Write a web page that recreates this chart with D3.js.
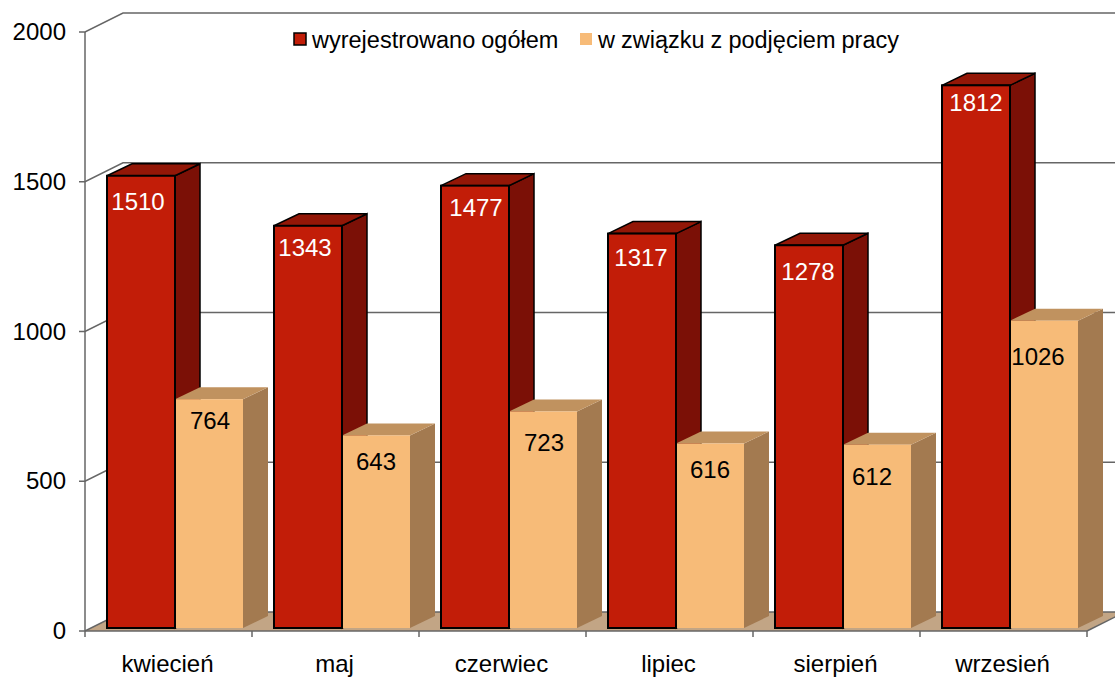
<!DOCTYPE html>
<html>
<head>
<meta charset="utf-8">
<script src="https://cdn.jsdelivr.net/npm/d3@7"></script>
<style>
  html, body { margin: 0; padding: 0; background: #fff; }
  svg { display: block; }
  text { font-family: "Liberation Sans", Arial, sans-serif; font-size: 24px; fill: #000; }
  .legend text { font-size: 23.5px; word-spacing: -0.5px; }
</style>
</head>
<body>
<div id="chart"></div>
<script>
const months = ["kwiecień", "maj", "czerwiec", "lipiec", "sierpień", "wrzesień"];
const total = [1510, 1343, 1477, 1317, 1278, 1812];
const employed = [764, 643, 723, 616, 612, 1026];
const yTicks = [0, 500, 1000, 1500, 2000];
const seriesNames = ["wyrejestrowano ogółem", "w związku z podjęciem pracy"];

const W = 1115, H = 678;
const m = { left: 85, right: 1087, top: 32, bottom: 631 };
// oblique projection: back wall offset, bar depth, gap of bars from the front edge
const wall = { dx: 38, dy: -19 };
const depth = { dx: 25, dy: -12 };
const inset = { dx: 6, dy: -3 };

const red = { front: "#c21d08", side: "#7b1006", top: "#931707", stroke: "#000" };
const tan = { front: "#f7bb78", side: "#a37a50", top: "#c0925f", stroke: "none" };

const svg = d3.select("#chart").append("svg").attr("width", W).attr("height", H)
  .attr("viewBox", `0 0 ${W} ${H}`);

const x = d3.scaleBand().domain(months).range([m.left, m.right]);
const y = d3.scaleLinear().domain([0, 2000]).range([m.bottom, m.top]);
const barW = 68;
const pts = (a) => a.map((p) => p.join(",")).join(" ");

// floor
svg.append("polygon").attr("fill", "#c2a585").attr("points", pts([
  [m.left, m.bottom], [m.right, m.bottom],
  [m.right + wall.dx, m.bottom + wall.dy], [m.left + wall.dx, m.bottom + wall.dy]
]));

// walls: gridlines + ticks
const axisCol = "#666";
const grid = svg.append("g").attr("stroke", axisCol).attr("stroke-width", 1.5).attr("fill", "none");
grid.selectAll("polyline").data(yTicks).join("polyline")
  .attr("points", (d) => pts([
    [m.left - 6, y(d)], [m.left, y(d)],
    [m.left + wall.dx, y(d) + wall.dy], [m.right + wall.dx, y(d) + wall.dy]
  ]));
grid.append("line").attr("x1", m.left).attr("x2", m.left).attr("y1", y(2000)).attr("y2", y(0));
grid.append("line").attr("x1", m.left).attr("x2", m.right).attr("y1", y(0)).attr("y2", y(0));
grid.append("line").attr("x1", m.right).attr("x2", m.right + wall.dx)
  .attr("y1", y(0)).attr("y2", y(0) + wall.dy);
grid.selectAll(".xt").data(d3.range(months.length + 1)).join("line").attr("class", "xt")
  .attr("x1", (i) => m.left + i * x.bandwidth()).attr("x2", (i) => m.left + i * x.bandwidth())
  .attr("y1", y(0)).attr("y2", y(0) + 6);

svg.append("g").selectAll("text").data(yTicks).join("text")
  .attr("x", 66).attr("y", (d) => y(d) + 8).attr("text-anchor", "end").text((d) => d);
svg.append("g").selectAll("text").data(months).join("text")
  .attr("x", (d) => x(d) + x.bandwidth() / 2 - 1).attr("y", 672).attr("text-anchor", "middle")
  .text((d) => d);

// 3d bar parts: left edge in px, value through the y scale
function barBack(g, x0, v, c) {
  const x1 = x0 + barW;
  const yb = y(0) + inset.dy, yt = y(v) + inset.dy;
  const sw = c.stroke === "none" ? 0 : 1.5;
  g.append("polygon").attr("fill", c.side).attr("stroke", c.stroke).attr("stroke-width", sw)
    .attr("points", pts([[x1, yb], [x1 + depth.dx, yb + depth.dy], [x1 + depth.dx, yt + depth.dy], [x1, yt]]));
  g.append("polygon").attr("fill", c.top).attr("stroke", c.stroke).attr("stroke-width", sw)
    .attr("points", pts([[x0, yt], [x1, yt], [x1 + depth.dx, yt + depth.dy], [x0 + depth.dx, yt + depth.dy]]));
}
function barFront(g, x0, v, c) {
  const yb = y(0) + inset.dy, yt = y(v) + inset.dy;
  g.append("rect").attr("x", x0).attr("y", yt).attr("width", barW).attr("height", yb - yt)
    .attr("fill", c.front).attr("stroke", c.stroke).attr("stroke-width", c.stroke === "none" ? 0 : 2);
}

// hand-placed labels in the original, offsets from the bar's top-centre
const totalLabelDy = [26, 22, 22, 24, 27, 18];
const totalLabelDx = [-3, -3, 1, -1, -1, 0];
const employedLabelDy = [22, 27, 32, 26, 32, 36];
const employedLabelDx = [1, 0, 1, 0, -5, -6];

months.forEach((mo, i) => {
  const g = svg.append("g");
  const x0 = x(mo) + 22;
  barBack(g, x0, total[i], red);
  barBack(g, x0 + barW, employed[i], tan);
  barFront(g, x0 + barW, employed[i], tan);
  barFront(g, x0, total[i], red);
  g.append("text").attr("x", x0 + barW / 2 + totalLabelDx[i]).attr("y", y(total[i]) + inset.dy + totalLabelDy[i] + 8)
    .attr("text-anchor", "middle").style("fill", "#fff").text(total[i]);
  g.append("text").attr("x", x0 + barW * 1.5 + employedLabelDx[i]).attr("y", y(employed[i]) + inset.dy + employedLabelDy[i] + 8)
    .attr("text-anchor", "middle").text(employed[i]);
});

// legend
const legendX = [294, 580];
const legendCol = [red, tan];
const lg = svg.append("g").attr("class", "legend");
seriesNames.forEach((name, i) => {
  lg.append("rect").attr("x", legendX[i]).attr("y", 33).attr("width", 12).attr("height", 12)
    .attr("fill", legendCol[i].front).attr("stroke", legendCol[i].stroke).attr("stroke-width", 1.5);
  lg.append("text").attr("x", legendX[i] + 18).attr("y", 48).text(name);
});
</script>
</body>
</html>
